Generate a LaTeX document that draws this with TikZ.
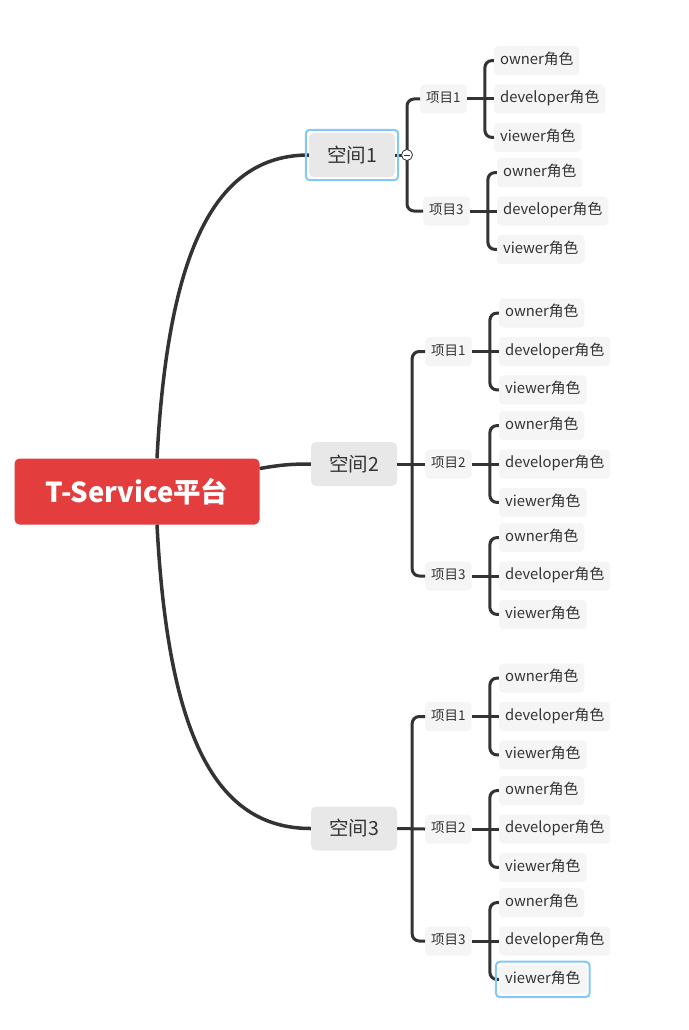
\documentclass[tikz,border=0pt]{standalone}
\usepackage{fontspec}
\setmainfont{Noto Sans CJK SC}
\usetikzlibrary{positioning}

\definecolor{rootred}{HTML}{E33D3D}
\definecolor{spacegray}{HTML}{E8E8E8}
\definecolor{leafgray}{HTML}{F5F5F5}
\definecolor{linegray}{HTML}{333333}
\definecolor{selblue}{HTML}{86C8F5}

\tikzset{
  rootbox/.style={fill=rootred, text=white, rounded corners=5pt, minimum width=245pt, minimum height=66pt,
    font=\fontsize{27.5}{32}\selectfont\bfseries},
  spacebox/.style={fill=spacegray, text=linegray, rounded corners=5pt, minimum width=86pt, minimum height=44pt,
    font=\fontsize{19.5}{23}\selectfont},
  projbox/.style={fill=leafgray, text=linegray, rounded corners=4pt, minimum height=29pt, inner xsep=6pt,
    text height=9.5pt, text depth=2pt, font=\fontsize{13.5}{16}\selectfont},
  rolebox/.style={fill=leafgray, text=linegray, rounded corners=4pt, minimum height=29pt, inner xsep=6pt,
    text height=10.5pt, text depth=3pt, font=\fontsize{14.8}{17}\selectfont},
  trunk/.style={draw=linegray, line width=3.5pt},
  branch/.style={draw=linegray, line width=3pt, rounded corners=7pt},
  selframe/.style={draw=selblue, line width=2pt, rounded corners=4pt},
}

% three roles hanging off one project node
\newcommand{\rolegroup}[1]{%
  \node[rolebox, right=27pt of #1] (#1-dev) {developer角色};
  \node[rolebox, above=9pt of #1-dev.north west, anchor=south west] (#1-own) {owner角色};
  \node[rolebox, below=9pt of #1-dev.south west, anchor=north west] (#1-view) {viewer角色};
  \draw[branch] (#1.east) -- (#1-dev.west);
  \draw[branch] ([xshift=18pt]#1.east) |- (#1-own.west);
  \draw[branch] ([xshift=18pt]#1.east) |- (#1-view.west);
}

\begin{document}
\begin{tikzpicture}[x=1pt, y=-1pt]
    \fill[white] (0,0) rectangle (688,1030);
    \useasboundingbox (0,0) rectangle (688,1030);

    \node[rootbox] (root) at (137,491.5) {T-Service平台};
    \node[spacebox] (s1) at (352,155) {空间1};
    \node[spacebox] (s2) at (354,464) {空间2};
    \node[spacebox] (s3) at (354,828.5) {空间3};

    % root to spaces
    \draw[trunk] ([xshift=20pt]root.north) .. controls (168,250) and (215,155) .. (s1.west);
    \draw[trunk] ([yshift=23pt]root.east) .. controls (280,465) and (290,464) .. (s2.west);
    \draw[trunk] ([xshift=20pt]root.south) .. controls (168,735) and (215,828.5) .. (s3.west);

    % projects
    \node[projbox, anchor=west] (s1p1) at (420,99) {项目1};
    \node[projbox, anchor=west] (s1p3) at (423,211) {项目3};
    \foreach \p/\y in {1/351.5,2/464,3/576} {
        \node[projbox, anchor=west] (s2p\p) at (425,\y) {项目\p};
    }
    \foreach \p/\y in {1/716.5,2/829,3/941} {
        \node[projbox, anchor=west] (s3p\p) at (425,\y) {项目\p};
    }

    % space to projects
    \coordinate (s1j) at (407,155);
    \draw[branch] (s1.east) -- (s1j);
    \draw[branch] (s1j) |- (s1p1.west);
    \draw[branch] (s1j) |- (s1p3.west);
    \draw[branch] (s2.east) -- (s2p2.west);
    \draw[branch] ([xshift=15pt]s2.east) |- (s2p1.west);
    \draw[branch] ([xshift=15pt]s2.east) |- (s2p3.west);
    \draw[branch] (s3.east) -- (s3p2.west);
    \draw[branch] ([xshift=15pt]s3.east) |- (s3p1.west);
    \draw[branch] ([xshift=15pt]s3.east) |- (s3p3.west);

    % roles
    \foreach \n in {s1p1,s1p3,s2p1,s2p2,s2p3,s3p1,s3p2,s3p3} {
        \rolegroup{\n}
    }

    % selection frames and collapse button
    \draw[selframe] ([shift={(-3pt,3pt)}]s1.north west) rectangle ([shift={(3pt,-3pt)}]s1.south east);
    \draw[selframe] ([shift={(-3pt,3pt)}]s3p3-view.north west) rectangle ([shift={(3pt,-3pt)}]s3p3-view.south east);
    \node[circle, draw=linegray, fill=white, line width=0.8pt, minimum size=11pt, inner sep=0pt] (s1fold) at (s1j) {};
    \draw[linegray, line width=1pt] ([xshift=-3pt]s1fold.center) -- ([xshift=3pt]s1fold.center);
\end{tikzpicture}
\end{document}
